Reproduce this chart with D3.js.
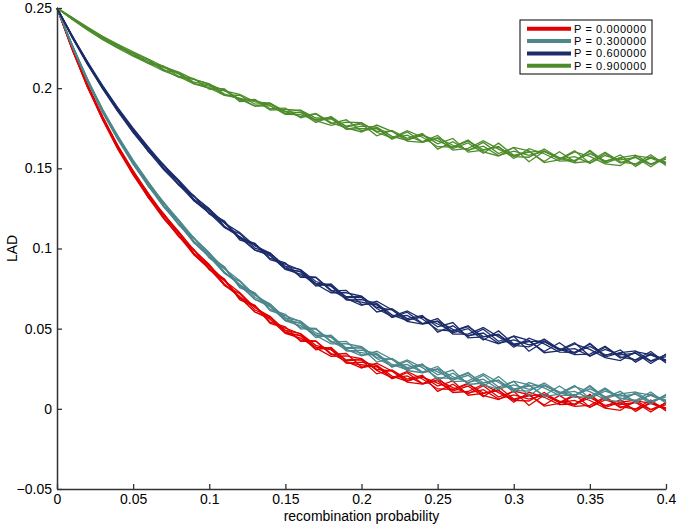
<!DOCTYPE html>
<meta charset="utf-8">
<script src="https://d3js.org/d3.v7.min.js"></script>
<style>
  body { margin: 0; background: #fff; }
  text { font-family: "Liberation Sans", Arial, Helvetica, sans-serif; }
</style>
<div id="my_dataviz"></div>
<script>

// recombination probability grid (0 to 0.4, step 0.01)
var recomb = [0,0.01,0.02,0.03,0.04,0.05,0.06,0.07,0.08,0.09,0.10,0.11,0.12,0.13,0.14,0.15,0.16,0.17,0.18,0.19,0.20,
              0.21,0.22,0.23,0.24,0.25,0.26,0.27,0.28,0.29,0.30,0.31,0.32,0.33,0.34,0.35,0.36,0.37,0.38,0.39,0.40];

// LAD values, in units of 1e-4 (7 runs per P)
var LAD_UNIT = 1e-4;

var runsP0 = [
  [2500,2248,2011,1817,1624,1481,1320,1215,1078,993,867,800,687,646,541,511,421,421,339,345,261,268,187,225,158,194,111,142,76,138,61,86,24,84,22,90,16,57,-16,42,1],
  [2500,2241,2020,1809,1637,1464,1336,1191,1102,971,893,770,719,616,575,477,455,368,383,300,305,218,242,185,209,109,154,94,144,73,109,21,87,39,89,10,69,7,42,-20,41],
  [2500,2247,2021,1807,1622,1477,1342,1197,1073,989,900,778,697,642,533,503,467,380,328,330,313,240,194,233,186,124,121,160,84,58,111,89,17,34,82,52,4,-9,50,35,6],
  [2500,2243,2009,1820,1633,1463,1325,1217,1093,963,874,810,680,638,561,473,458,384,379,285,291,272,204,172,204,142,174,85,96,117,41,103,72,26,29,85,8,41,54,-4,36],
  [2500,2250,2013,1805,1639,1475,1317,1210,1097,961,886,805,695,604,571,489,429,424,345,295,255,285,236,167,154,176,102,108,154,101,53,49,102,44,15,22,76,14,-1,55,-14],
  [2500,2251,2024,1823,1642,1486,1344,1215,1105,989,898,798,725,630,575,489,469,396,371,305,311,246,236,177,198,160,120,154,98,113,57,81,90,40,53,10,56,27,40,-6,26],
  [2500,2239,2006,1802,1618,1459,1318,1187,1077,961,874,770,701,604,559,471,441,382,369,287,275,262,192,205,156,180,132,98,120,61,87,61,86,48,27,70,22,37,-4,34,-4]
];

var runsP3 = [
  [2500,2260,2055,1854,1697,1530,1407,1264,1175,1046,967,846,795,694,654,555,533,445,460,376,380,292,315,257,280,179,222,161,209,136,171,82,146,97,145,65,123,59,94,30,90],
  [2500,2266,2056,1852,1682,1543,1413,1270,1146,1064,974,854,773,720,612,581,545,457,405,406,388,314,267,305,257,194,189,227,149,121,173,150,76,92,138,107,58,43,102,85,55],
  [2500,2262,2044,1865,1693,1529,1396,1290,1166,1038,948,886,756,716,640,551,536,461,456,361,366,346,277,244,275,212,242,152,161,180,103,164,131,84,85,140,62,93,106,46,85],
  [2500,2269,2048,1850,1699,1541,1388,1283,1170,1036,960,881,771,682,650,567,507,501,422,371,330,359,309,239,225,246,170,175,219,164,115,110,161,102,71,77,130,66,51,105,35],
  [2500,2267,2046,1862,1684,1547,1391,1288,1151,1068,941,876,763,724,620,589,499,498,416,421,336,342,260,297,229,264,179,209,141,201,123,147,83,142,78,145,70,109,36,92,50],
  [2500,2270,2059,1868,1702,1552,1415,1288,1178,1064,972,874,801,708,654,567,547,473,448,381,386,320,309,249,269,230,188,221,163,176,119,142,149,98,109,65,110,79,92,44,75],
  [2500,2258,2041,1847,1678,1525,1389,1260,1150,1036,948,846,777,682,638,549,519,459,446,363,350,336,265,277,227,250,200,165,185,124,149,122,145,106,83,125,76,89,48,84,45]
];

var runsP6 = [
  [2500,2323,2163,2000,1857,1741,1630,1503,1394,1325,1248,1139,1071,1028,930,902,866,778,724,724,703,626,576,611,560,493,485,518,437,406,454,427,350,362,405,371,319,301,357,338,306],
  [2500,2319,2151,2013,1868,1727,1613,1523,1414,1299,1222,1171,1054,1024,958,872,857,782,775,679,681,658,586,550,578,511,538,443,449,465,384,441,405,354,352,404,323,351,361,299,336],
  [2500,2326,2155,1998,1874,1739,1605,1516,1418,1297,1234,1166,1069,990,968,888,828,822,741,689,645,671,618,545,528,545,466,466,507,449,396,387,435,372,338,341,391,324,306,358,286],
  [2500,2324,2153,2010,1859,1745,1608,1521,1399,1329,1215,1161,1061,1032,938,910,820,819,735,739,651,654,569,603,532,563,475,500,429,486,404,424,357,412,345,409,331,367,291,345,301],
  [2500,2317,2162,2002,1872,1728,1624,1497,1423,1307,1241,1131,1093,1002,972,876,854,766,779,694,695,604,624,563,583,478,518,452,497,421,452,359,420,367,412,329,384,317,349,283,341],
  [2500,2327,2166,2016,1877,1750,1632,1521,1426,1325,1246,1159,1099,1016,972,888,868,794,767,699,701,632,618,555,572,529,484,512,451,461,400,419,423,368,376,329,371,337,347,297,326],
  [2500,2315,2148,1995,1853,1723,1606,1493,1398,1297,1222,1131,1075,990,956,870,840,780,765,681,665,648,574,583,530,549,496,456,473,409,430,399,419,376,350,389,337,347,303,337,296]
];

var runsP9 = [
  [2500,2433,2366,2321,2265,2203,2162,2137,2088,2029,2001,1995,1917,1922,1892,1838,1852,1802,1819,1743,1763,1757,1699,1674,1712,1653,1686,1601,1614,1636,1561,1623,1591,1545,1549,1607,1532,1567,1582,1526,1568],
  [2500,2440,2370,2306,2271,2215,2154,2130,2092,2027,2013,1990,1932,1888,1902,1854,1823,1842,1785,1753,1727,1770,1731,1669,1662,1687,1614,1624,1672,1620,1573,1569,1621,1563,1535,1544,1600,1540,1527,1585,1518],
  [2500,2438,2368,2318,2256,2221,2157,2135,2073,2059,1994,1985,1924,1930,1872,1876,1815,1839,1779,1803,1733,1753,1682,1727,1666,1705,1623,1658,1594,1657,1581,1606,1543,1603,1542,1612,1540,1583,1512,1572,1533],
  [2500,2431,2377,2310,2269,2204,2173,2111,2097,2037,2020,1955,1956,1900,1906,1842,1849,1786,1823,1758,1777,1703,1737,1687,1717,1620,1666,1610,1662,1592,1629,1541,1606,1558,1609,1532,1593,1533,1570,1510,1573],
  [2500,2437,2378,2308,2254,2217,2179,2117,2068,2055,2027,1963,1934,1926,1864,1868,1861,1798,1768,1788,1785,1725,1689,1735,1694,1635,1633,1676,1602,1577,1631,1609,1536,1553,1602,1574,1528,1517,1578,1565,1538],
  [2500,2441,2381,2324,2274,2226,2181,2135,2100,2055,2025,1983,1962,1914,1906,1854,1863,1814,1811,1763,1783,1731,1731,1679,1706,1671,1632,1670,1616,1632,1577,1601,1609,1559,1573,1532,1580,1553,1568,1524,1558],
  [2500,2429,2363,2303,2250,2199,2155,2107,2072,2027,2001,1955,1938,1888,1890,1836,1835,1800,1809,1745,1747,1747,1687,1707,1664,1691,1644,1614,1638,1580,1607,1581,1605,1567,1547,1592,1546,1563,1524,1564,1528]
];

var seriesNames = ["P = 0.000000", "P = 0.300000", "P = 0.600000", "P = 0.900000"];
var seriesColors = ["#e00000", "#4b878b", "#1c2c6a", "#4d8c2b"];
var seriesRuns = [runsP0, runsP3, runsP6, runsP9];

var xTicks = [0, 0.05, 0.1, 0.15, 0.2, 0.25, 0.3, 0.35, 0.4];
var yTicks = [-0.05, 0, 0.05, 0.1, 0.15, 0.2, 0.25];

// dimensions
var W = 677, H = 526;
var margin = {top: 8, right: 11, bottom: 37, left: 57};

var svg = d3.select("#my_dataviz")
  .append("svg")
    .attr("width", W)
    .attr("height", H);

var x = d3.scaleLinear()
  .domain([0, 0.4])
  .range([margin.left, W - margin.right]);

var y = d3.scaleLinear()
  .domain([-0.05, 0.25])
  .range([H - margin.bottom, margin.top]);

var line = d3.line()
  .x(function(d, i) { return x(recomb[i]); })
  .y(function(d) { return y(d * LAD_UNIT); });

// curves
seriesRuns.forEach(function(runs, s) {
  svg.append("g")
    .selectAll("path")
    .data(runs)
    .enter()
    .append("path")
      .attr("d", line)
      .attr("fill", "none")
      .attr("stroke", seriesColors[s])
      .attr("stroke-width", 1.3);
});

// axes (ticks inward, MATLAB style)
var fmt = function(d) { return d3.format("~g")(d); };

var xAxis = svg.append("g")
  .attr("transform", "translate(0," + (H - margin.bottom) + ")")
  .call(d3.axisBottom(x).tickValues(xTicks).tickSizeInner(-5).tickSizeOuter(0).tickFormat(fmt));
xAxis.selectAll("text").attr("y", 15).attr("dy", 0);

var yAxis = svg.append("g")
  .attr("transform", "translate(" + margin.left + ",0)")
  .call(d3.axisLeft(y).tickValues(yTicks).tickSizeInner(-5).tickSizeOuter(0).tickFormat(fmt));
yAxis.selectAll("text").attr("x", -5);

[xAxis, yAxis].forEach(function(a) {
  a.select(".domain").attr("stroke", "#333").attr("stroke-width", 1.5);
  a.selectAll(".tick line").attr("stroke", "#333").attr("stroke-width", 1.3);
  a.selectAll("text").attr("fill", "#000").style("font-size", "14px")
    .style("font-family", "'Liberation Sans', Arial, Helvetica, sans-serif");
});

// axis labels
svg.append("text")
  .attr("x", (margin.left + W - margin.right) / 2)
  .attr("y", 521)
  .attr("text-anchor", "middle")
  .style("font-size", "14px")
  .text("recombination probability");

svg.append("text")
  .attr("transform", "translate(17," + ((margin.top + H - margin.bottom) / 2) + ")rotate(-90)")
  .attr("text-anchor", "middle")
  .style("font-size", "14px")
  .text("LAD");

// legend
var legend = svg.append("g");
legend.append("rect")
  .attr("x", 520).attr("y", 20)
  .attr("width", 132).attr("height", 54)
  .attr("fill", "#fff")
  .attr("stroke", "#000")
  .attr("stroke-width", 1);

seriesNames.forEach(function(name, i) {
  var ly = 28.8 + i * 12.3;
  legend.append("line")
    .attr("x1", 527).attr("x2", 571)
    .attr("y1", ly).attr("y2", ly)
    .attr("stroke", seriesColors[i])
    .attr("stroke-width", 4);
  legend.append("text")
    .attr("x", 574).attr("y", ly + 4)
    .style("font-size", "11px")
    .style("letter-spacing", "0.6px")
    .text(name);
});

</script>
